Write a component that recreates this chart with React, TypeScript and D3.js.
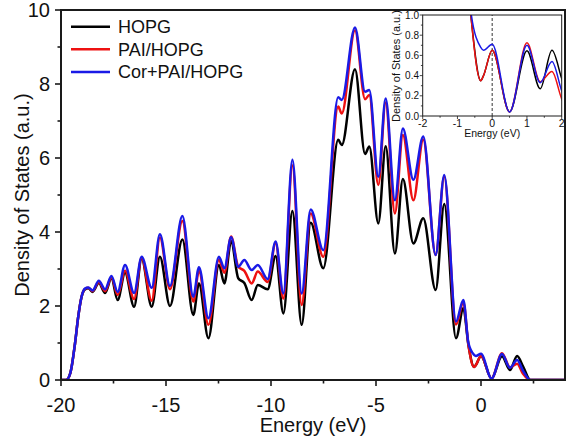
import React from "react";
import * as d3 from "d3";

// Energy grid (eV) and density of states for each system
const energy = [
  -20, -19.75, -19.55, -19.33, -19.18, -19.02, -18.86, -18.7, -18.5, -18.2, -17.9, -17.6, -17.3, -16.95,
  -16.52, -16.16, -15.68, -15.29, -14.81, -14.22, -13.7, -13.43, -12.98, -12.48, -12.22, -11.9, -11.56,
  -11.27, -10.92, -10.63, -10.16, -9.78, -9.41, -8.98, -8.54, -8.11, -7.51, -6.8, -6.63, -6.0, -5.52,
  -5.32, -4.89, -4.54, -4.1, -3.72, -3.22, -2.75, -2.16, -1.75, -1.19, -0.84, -0.6, -0.33, -0.25, 0.0,
  0.5, 1.0, 1.38, 1.72, 2.0, 2.35, 4.0,
];
const hopg = [
  0, 0, 0.2, 1.0, 1.71, 2.25, 2.45, 2.48, 2.38, 2.62, 2.35, 2.75, 2.16, 2.9,
  1.98, 3.28, 1.98, 3.33, 2.0, 3.8, 1.76, 2.61, 1.13, 3.11, 2.61, 3.76, 2.75,
  2.62, 2.16, 2.57, 2.45, 3.35, 1.8, 4.57, 1.49, 4.25, 3.02, 6.49, 6.35, 8.4, 6.11,
  6.31, 4.23, 6.32, 3.42, 5.43, 3.69, 4.37, 2.43, 4.76, 1.13, 1.94, 0.95, 0.35, 0.4, 0.65,
  0.04, 0.645, 0.27, 0.65, 0.37, 0, 0,
];
const paiHopg = [
  0, 0, 0.2, 1.0, 1.71, 2.25, 2.46, 2.49, 2.4, 2.65, 2.4, 2.78, 2.3, 2.95,
  2.19, 3.3, 2.14, 3.85, 2.45, 4.3, 2.12, 2.95, 1.49, 3.25, 2.9, 3.88, 3.06,
  2.95, 2.61, 2.93, 2.65, 3.7, 2.2, 5.8, 2.03, 4.5, 3.33, 7.39, 7.2, 9.45, 7.59,
  7.7, 5.27, 7.5, 4.5, 6.62, 4.86, 6.5, 3.38, 5.5, 1.5, 2.1, 0.95, 0.35, 0.4, 0.65,
  0.04, 0.725, 0.34, 0.44, 0.17, 0, 0,
];
const corPaiHopg = [
  0, 0, 0.2, 1.0, 1.71, 2.25, 2.47, 2.5, 2.42, 2.68, 2.45, 2.81, 2.38, 3.11,
  2.35, 3.33, 2.49, 3.94, 2.54, 4.43, 2.25, 3.05, 1.67, 3.33, 3.02, 3.86, 3.06,
  3.24, 2.97, 3.11, 2.73, 3.74, 2.34, 5.95, 2.34, 4.61, 3.51, 7.64, 7.57, 9.53, 7.79,
  7.84, 5.49, 7.61, 4.86, 6.8, 5.41, 6.58, 3.38, 5.54, 1.58, 2.16, 1.0, 0.68, 0.65, 0.71,
  0.04, 0.7, 0.33, 0.54, 0.25, 0, 0,
];

const seriesNames = ["HOPG", "PAI/HOPG", "Cor+PAI/HOPG"];
const seriesColors = ["#000000", "#ee1111", "#1a1ae6"];
const seriesValues = [hopg, paiHopg, corPaiHopg];

const xMajor = [-20, -15, -10, -5, 0];
const xMinor = [-17.5, -12.5, -7.5, -2.5, 2.5];
const yMajor = [0, 2, 4, 6, 8, 10];
const yMinor = [1, 3, 5, 7, 9];

const insetXMajor = [-2, -1, 0, 1, 2];
const insetXMinor = [-1.5, -0.5, 0.5, 1.5];
const insetYMajor = [0, 0.2, 0.4, 0.6, 0.8, 1.0];
const insetYMinor = [0.1, 0.3, 0.5, 0.7, 0.9];

const FONT = "'Liberation Sans', Arial, Helvetica, sans-serif";

export default function App() {
  const x = d3.scaleLinear().domain([-20, 4]).range([61, 565]);
  const y = d3.scaleLinear().domain([0, 10]).range([380, 10]);

  const ix = d3.scaleLinear().domain([-2, 2]).range([422.7, 561.7]);
  const iy = d3.scaleLinear().domain([0, 1]).range([116, 15]);

  const mainLine = (vals: number[]) =>
    d3
      .line<number>()
      .x((_, i) => x(energy[i]))
      .y((d) => y(d))
      .curve(d3.curveMonotoneX)(vals) || "";

  const insetLine = (vals: number[]) =>
    d3
      .line<number>()
      .x((_, i) => ix(energy[i]))
      .y((d) => iy(d))
      .curve(d3.curveMonotoneX)(vals) || "";

  const axisColor = "#1a1a1a";

  return (
    <svg
      width={566}
      height={438}
      style={{ position: "absolute", left: 0, top: 0, background: "#fff" }}
      fontFamily={FONT}
    >
      <defs>
        <clipPath id="mainClip">
          <rect x={x(-20)} y={y(10)} width={x(4) - x(-20)} height={y(0) - y(10)} />
        </clipPath>
        <clipPath id="insetClip">
          <rect x={ix(-2)} y={iy(1)} width={ix(2) - ix(-2)} height={iy(0) - iy(1)} />
        </clipPath>
      </defs>

      {/* main curves */}
      <g clipPath="url(#mainClip)">
        {seriesValues.map((vals, k) => (
          <path
            key={k}
            d={mainLine(vals)}
            fill="none"
            stroke={seriesColors[k]}
            strokeWidth={2.5}
            strokeLinejoin="round"
          />
        ))}
      </g>

      {/* main frame */}
      <rect
        x={x(-20)}
        y={y(10)}
        width={x(4) - x(-20)}
        height={y(0) - y(10)}
        fill="none"
        stroke={axisColor}
        strokeWidth={2}
      />

      {/* x ticks */}
      {xMajor.map((t) => (
        <g key={"xM" + t}>
          <line x1={x(t)} x2={x(t)} y1={y(0)} y2={y(0) + 6} stroke={axisColor} strokeWidth={1.6} />
          <text x={x(t)} y={412} textAnchor="middle" fontSize={20} fill="#111">
            {t}
          </text>
        </g>
      ))}
      {xMinor.map((t) => (
        <line key={"xm" + t} x1={x(t)} x2={x(t)} y1={y(0)} y2={y(0) + 3.5} stroke={axisColor} strokeWidth={1.6} />
      ))}

      {/* y ticks */}
      {yMajor.map((t) => (
        <g key={"yM" + t}>
          <line x1={x(-20) - 6} x2={x(-20)} y1={y(t)} y2={y(t)} stroke={axisColor} strokeWidth={1.6} />
          <text x={50} y={y(t)} dy="0.36em" textAnchor="end" fontSize={20} fill="#111">
            {t}
          </text>
        </g>
      ))}
      {yMinor.map((t) => (
        <line key={"ym" + t} x1={x(-20) - 3.5} x2={x(-20)} y1={y(t)} y2={y(t)} stroke={axisColor} strokeWidth={1.6} />
      ))}

      {/* axis titles */}
      <text x={313} y={432} textAnchor="middle" fontSize={20} fill="#111">
        Energy (eV)
      </text>
      <text
        transform={`translate(22, ${195}) rotate(-90)`}
        textAnchor="middle"
        dy="0.36em"
        fontSize={20}
        fill="#111"
      >
        Density of States (a.u.)
      </text>

      {/* legend */}
      {seriesNames.map((name, k) => (
        <g key={name}>
          <line x1={71} x2={110} y1={26.7 + k * 22.6} y2={26.7 + k * 22.6} stroke={seriesColors[k]} strokeWidth={2.5} />
          <text x={118} y={26.7 + k * 22.6} dy="0.36em" fontSize={18} fill="#111">
            {name}
          </text>
        </g>
      ))}

      {/* inset */}
      <rect
        x={ix(-2)}
        y={iy(1)}
        width={ix(2) - ix(-2)}
        height={iy(0) - iy(1)}
        fill="#fff"
      />
      <g clipPath="url(#insetClip)">
        <line
          x1={ix(0)}
          x2={ix(0)}
          y1={iy(0)}
          y2={iy(1)}
          stroke="#555"
          strokeWidth={1.2}
          strokeDasharray="3,2"
        />
        {seriesValues.map((vals, k) => (
          <path
            key={"i" + k}
            d={insetLine(vals)}
            fill="none"
            stroke={seriesColors[k]}
            strokeWidth={1.5}
            strokeLinejoin="round"
          />
        ))}
      </g>
      <rect
        x={ix(-2)}
        y={iy(1)}
        width={ix(2) - ix(-2)}
        height={iy(0) - iy(1)}
        fill="none"
        stroke={axisColor}
        strokeWidth={1}
      />
      {insetXMajor.map((t) => (
        <g key={"ixM" + t}>
          <line x1={ix(t)} x2={ix(t)} y1={iy(0)} y2={iy(0) + 3} stroke={axisColor} strokeWidth={0.8} />
          <text x={ix(t)} y={127} textAnchor="middle" fontSize={10.5} fill="#111">
            {t}
          </text>
        </g>
      ))}
      {insetXMinor.map((t) => (
        <line key={"ixm" + t} x1={ix(t)} x2={ix(t)} y1={iy(0)} y2={iy(0) + 1.8} stroke={axisColor} strokeWidth={0.8} />
      ))}
      {insetYMajor.map((t) => (
        <g key={"iyM" + t}>
          <line x1={ix(-2) - 3} x2={ix(-2)} y1={iy(t)} y2={iy(t)} stroke={axisColor} strokeWidth={0.8} />
          <text x={419} y={iy(t)} dy="0.36em" textAnchor="end" fontSize={10} fill="#111">
            {t.toFixed(1)}
          </text>
        </g>
      ))}
      {insetYMinor.map((t) => (
        <line key={"iym" + t} x1={ix(-2) - 1.8} x2={ix(-2)} y1={iy(t)} y2={iy(t)} stroke={axisColor} strokeWidth={0.8} />
      ))}
      <text x={ix(0)} y={136.5} textAnchor="middle" fontSize={10.5} fill="#111">
        Energy (eV)
      </text>
      <text
        transform={`translate(396, ${66}) rotate(-90)`}
        textAnchor="middle"
        dy="0.36em"
        fontSize={11}
        fill="#111"
      >
        Density of States (a.u.)
      </text>
    </svg>
  );
}
